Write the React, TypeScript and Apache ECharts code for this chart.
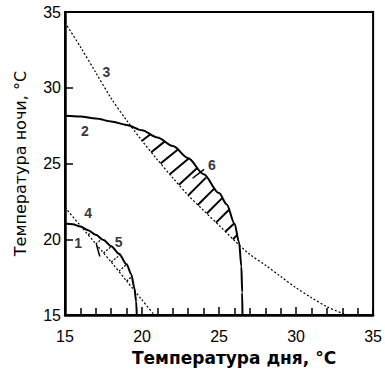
import React, { useEffect, useRef } from "react";
import * as echarts from "echarts";

// Curve 1 (solid, small)
const curve1: number[][] = [
  [15, 21.05], [15.5, 21.0], [16, 20.85], [16.5, 20.6], [17, 20.3], [17.5, 19.95],
  [18, 19.55], [18.5, 19.05], [19, 18.35], [19.3, 17.7], [19.5, 16.8], [19.62, 15.9], [19.66, 15],
];
// Curve 2 (solid, large)
const curve2: number[][] = [
  [15, 28.15], [16, 28.1], [17, 27.98], [18, 27.78], [19, 27.55], [20, 27.2], [21, 26.72],
  [22, 26.15], [23, 25.35], [24, 24.3], [25, 23.05], [25.5, 22.3], [26, 21.05], [26.3, 19.8],
  [26.45, 18.2], [26.5, 16.5], [26.52, 15],
];
// Curve 3 (dotted, long)
const curve3: number[][] = [
  [15, 34.3], [16, 32.7], [17, 31.0], [18, 29.3], [19, 27.85], [20, 26.5], [21, 25.25],
  [22, 24.05], [23, 22.9], [24, 21.9], [25, 20.92], [26, 19.92], [27, 19.0], [28, 18.3],
  [29, 17.55], [30, 16.8], [31, 16.15], [32, 15.55], [33.3, 15],
];
// Curve 4 (dotted, short)
const curve4: number[][] = [
  [15, 22.1], [16, 20.9], [17, 19.7], [18, 18.5], [19, 17.25], [20, 16.0], [20.8, 15],
];
// Hatching of region 6 (between curves 3 and 2): [x1, y1, x2, y2]
const hatch6: number[][] = [
  [20.0, 26.5, 20.57, 26.95], [20.6, 25.75, 21.5, 26.48], [21.2, 25.0, 22.33, 25.93],
  [21.8, 24.3, 23.03, 25.33], [22.4, 23.6, 23.6, 24.72], [23.0, 22.9, 24.15, 24.07],
  [23.6, 22.25, 24.72, 23.38], [24.2, 21.7, 25.2, 22.72], [24.8, 21.1, 25.65, 21.95],
  [25.4, 20.5, 25.98, 21.05], [25.9, 20.0, 26.16, 20.28],
];
// Hatching of region 5 (between curves 4 and 1)
const hatch5: number[][] = [
  [16.5, 20.3, 16.74, 20.5], [17.0, 19.7, 17.4, 20.03], [17.5, 19.1, 18.04, 19.55],
  [18.0, 18.5, 18.6, 19.0], [18.5, 17.9, 18.98, 18.33], [19.0, 17.25, 19.36, 17.55],
];
// Leader lines for labels 5 and 6
const leaders: number[][] = [
  [17.05, 19.63, 17.26, 18.87], [24.03, 24.61, 23.28, 24.03],
];
// Curve labels
const curveLabels: { name: string; value: number[] }[] = [
  { name: "1", value: [15.86, 19.74] },
  { name: "2", value: [16.29, 27.15] },
  { name: "3", value: [17.69, 31.03] },
  { name: "4", value: [16.5, 21.77] },
  { name: "5", value: [18.48, 19.84] },
  { name: "6", value: [24.53, 24.9] },
];
const xTitle = "Температура дня, °C";
const yTitle = "Температура ночи, °C";

const toLines = (arr: number[][]) =>
  arr.map((s) => ({ coords: [[s[0], s[1]], [s[2], s[3]]] }));

export default function App() {
  const ref = useRef<HTMLDivElement>(null);
  useEffect(() => {
    if (!ref.current) return;
    const chart = echarts.init(ref.current, undefined, { renderer: "svg" });
    chart.setOption({
      animation: false,
      backgroundColor: "#fff",
      grid: { left: 65, top: 12, width: 310, height: 310, show: true, borderColor: "#000", borderWidth: 2 },
      xAxis: {
        type: "value",
        min: 15,
        max: 35,
        interval: 5,
        axisLine: { show: true, onZero: false, lineStyle: { color: "#000", width: 2.5 } },
        axisTick: { show: true, inside: true, length: 8, lineStyle: { color: "#000", width: 1.5 } },
        minorTick: { show: true, splitNumber: 5, length: 7, lineStyle: { color: "#000", width: 1.5 } },
        splitLine: { show: false },
        axisLabel: { color: "#000", fontFamily: "Liberation Sans", fontSize: 16, margin: 13 },
        name: xTitle,
        nameLocation: "middle",
        nameGap: 16,
        nameTextStyle: { color: "#000", fontFamily: "DejaVu Sans", fontSize: 17, fontWeight: "bold", padding: [0, 0, 0, 30] },
      },
      yAxis: {
        type: "value",
        min: 15,
        max: 35,
        interval: 5,
        axisLine: { show: true, onZero: false, lineStyle: { color: "#000", width: 2.5 } },
        axisTick: { show: true, inside: true, length: 8, lineStyle: { color: "#000", width: 1.5 } },
        splitLine: { show: false },
        axisLabel: { color: "#000", fontFamily: "Liberation Sans", fontSize: 16, margin: 4 },
        name: yTitle,
        nameLocation: "middle",
        nameGap: 37,
        nameTextStyle: { color: "#000", fontFamily: "DejaVu Sans", fontSize: 16 },
      },
      series: [
        { type: "line", data: curve1, showSymbol: false, smooth: 0.3, smoothMonotone: "x", lineStyle: { color: "#000", width: 2 } },
        { type: "line", data: curve2, showSymbol: false, smooth: 0.3, smoothMonotone: "x", lineStyle: { color: "#000", width: 2 } },
        { type: "line", data: curve3, showSymbol: false, smooth: 0.3, lineStyle: { color: "#000", width: 1.2, type: [2, 2] } },
        { type: "line", data: curve4, showSymbol: false, smooth: 0.3, lineStyle: { color: "#000", width: 1.2, type: [2, 2] } },
        { type: "lines", coordinateSystem: "cartesian2d", data: toLines(hatch6), lineStyle: { color: "#000", width: 2, opacity: 1 } },
        { type: "lines", coordinateSystem: "cartesian2d", data: toLines(hatch5), lineStyle: { color: "#000", width: 1.2, type: [2, 1.5], opacity: 1 } },
        { type: "lines", coordinateSystem: "cartesian2d", data: toLines(leaders), lineStyle: { color: "#000", width: 1.5, opacity: 1 } },
        {
          type: "scatter",
          data: curveLabels,
          symbolSize: 1,
          itemStyle: { color: "rgba(0,0,0,0)" },
          label: { show: true, position: "inside", formatter: "{b}", color: "#000", fontFamily: "Liberation Sans", fontSize: 14, fontWeight: "bold" },
        },
      ],
    });
    return () => chart.dispose();
  }, []);
  return <div ref={ref} style={{ position: "fixed", left: 0, top: 0, width: 385, height: 371 }} />;
}
